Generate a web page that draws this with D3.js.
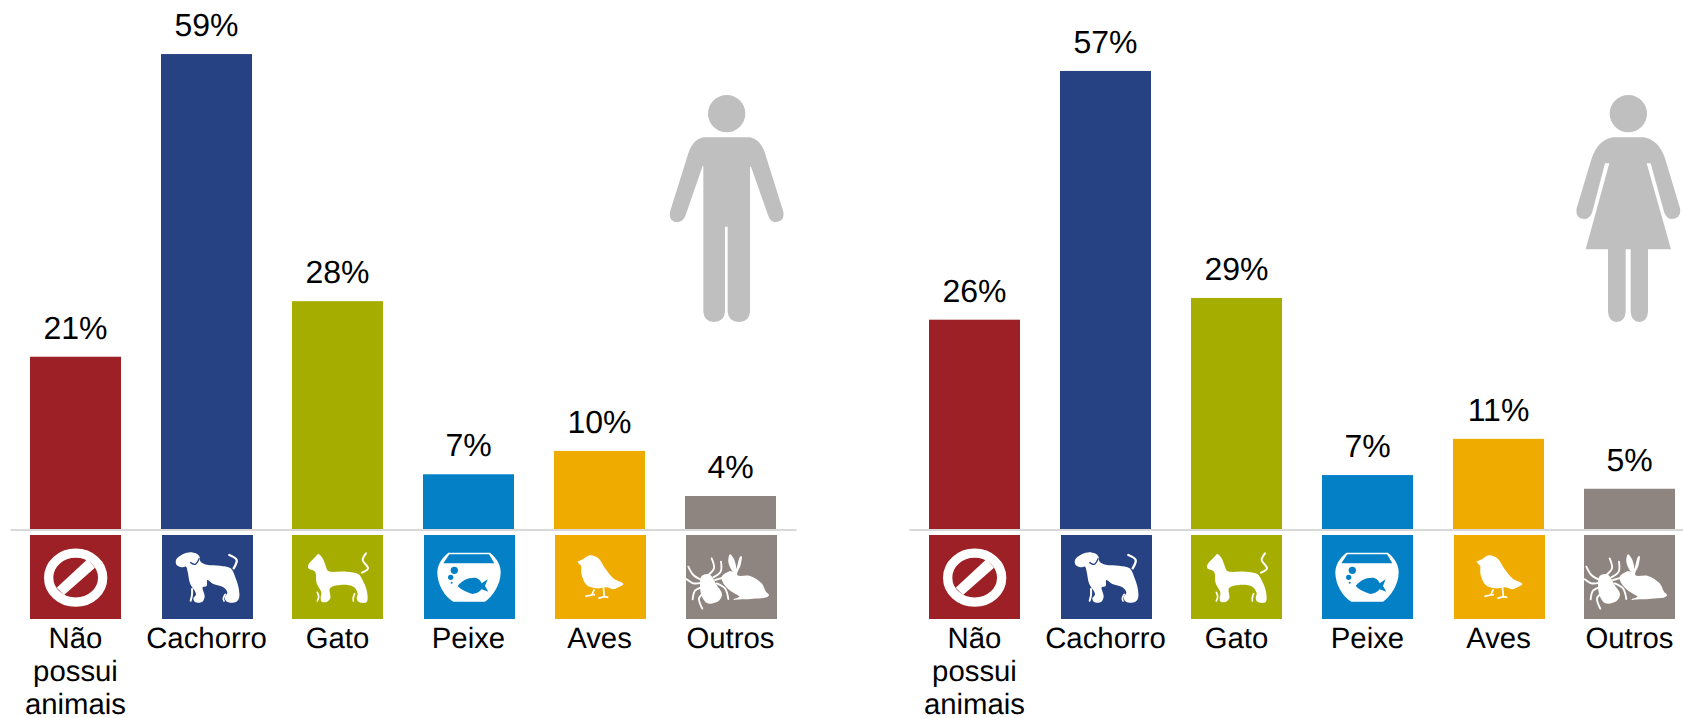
<!DOCTYPE html>
<html>
<head>
<meta charset="utf-8">
<script src="https://cdn.jsdelivr.net/npm/d3@7"></script>
<style>
  html, body { margin: 0; padding: 0; background: #fff; overflow: hidden; }
  svg { display: block; }
  text { font-family: "Liberation Sans", Arial, sans-serif; fill: #000; text-rendering: geometricPrecision; }
  .val { font-size: 32px; }
  .cat { font-size: 29.33px; }
</style>
</head>
<body>
<svg id="chart"></svg>
<script>
var categories = ["Não possui animais", "Cachorro", "Gato", "Peixe", "Aves", "Outros"];
var menValues = [21.4, 59.0, 28.3, 6.8, 9.7, 4.1];
var womenValues = [26.0, 56.9, 28.7, 6.7, 11.2, 5.0];
var colors = ["#9c2026", "#264282", "#a5ad00", "#0480c6", "#f0ab00", "#8f8580"];

var width = 1683, height = 718;
var baseY = 529, iconTop = 535, iconH = 84;

var svg = d3.select("#chart").attr("width", width).attr("height", height);

var y = d3.scaleLinear().domain([0, 60]).range([baseY, baseY - 483]);

// pictograms, traced at 3x inside the 273x252 icon square
var smooth = d3.line().curve(d3.curveCatmullRomClosed.alpha(0.5));
var open = d3.line().curve(d3.curveCatmullRom.alpha(0.5));

function blob(g, pts, fill) {
  g.append("path").attr("d", smooth(pts)).attr("fill", fill || "#fff");
}
function stroke(g, pts, w) {
  g.append("path").attr("d", open(pts)).attr("fill", "none")
    .attr("stroke", "#fff").attr("stroke-width", w).attr("stroke-linecap", "round");
}

var icons = [
  function(g) {
    g.append("ellipse").attr("cx", 137).attr("cy", 128).attr("rx", 81).attr("ry", 73.5)
      .attr("fill", "none").attr("stroke", "#fff").attr("stroke-width", 28);
    g.append("path").attr("d", "M80,158L172,73L195,98L102,180Z").attr("fill", "#fff");
  },
  function(g) {
    blob(g, [[42,75],[62,58],[89,52],[111,62],[116,80],[134,89],[174,92],[206,100],[221,130],[231,165],[231,190],[222,201],[196,201],[188,190],[196,172],[184,157],[154,147],[136,135],[134,153],[122,157],[128,185],[120,201],[99,201],[94,190],[102,178],[84,145],[77,110],[72,95],[59,97],[44,90]]);
    stroke(g, [[202,60],[224,75],[215,100]], 7);
    stroke(g, [[90,162],[90,180],[86,197]], 6);
    stroke(g, [[190,178],[184,190],[186,198]], 5);
    g.append("path").attr("d", open([[85,82],[100,88],[112,70]])).attr("fill", "none").attr("stroke", "#264282").attr("stroke-width", 4);
  },
  function(g) {
    blob(g, [[79,57],[92,70],[102,95],[109,108],[164,110],[199,117],[214,140],[225,170],[224,201],[200,201],[194,190],[197,175],[184,155],[144,150],[114,160],[115,190],[104,201],[89,200],[86,190],[88,172],[74,145],[69,110],[49,100],[49,90],[69,67]]);
    stroke(g, [[222,55],[212,75],[228,100],[210,113]], 6);
    stroke(g, [[76,172],[80,185],[76,198]], 5);
    stroke(g, [[188,176],[184,188],[184,198]], 5);
  },
  function(g) {
    g.append("path").attr("d", "M73,53L198,53C222,72 230,95 230,112C230,150 205,185 183,200L88,200C62,185 40,150 40,112C40,92 50,72 73,53Z").attr("fill", "#fff");
    var c = colors[3];
    g.append("path").attr("d", "M76,58L195,58L211,85L58,85Z").attr("fill", c);
    g.append("circle").attr("cx", 91).attr("cy", 106).attr("r", 11).attr("fill", c);
    g.append("circle").attr("cx", 80).attr("cy", 127).attr("r", 8).attr("fill", c);
    g.append("circle").attr("cx", 83).attr("cy", 143).attr("r", 3).attr("fill", c);
    g.append("path").attr("d", "M101,153C112,138 130,128 150,128C162,128 170,136 173,145L191,133L183,153L193,170L173,163C165,172 155,177 145,177C128,172 112,165 101,153Z").attr("fill", c);
  },
  function(g) {
    blob(g, [[82,77],[105,61],[130,70],[150,100],[175,130],[205,147],[190,157],[175,163],[155,157],[125,160],[95,150],[80,120],[79,98]]);
    g.append("path").attr("d", "M67,80L85,72L82,97Z").attr("fill", "#fff");
    g.append("path").attr("d", "M118,163L110,180L91,184M110,180L120,179M145,155L148,185L130,190M148,185L160,187")
      .attr("fill", "none").attr("stroke", "#fff").attr("stroke-width", 5);
  },
  function(g) {
    blob(g, [[107,125],[127,110],[147,107],[162,65],[167,63],[164,90],[154,120],[192,123],[227,145],[240,170],[249,180],[242,187],[202,191],[172,193],[142,193],[160,185],[150,178],[130,165],[112,145]]);
    blob(g, [[132,58],[127,80],[142,110],[150,105],[145,75]]);
    blob(g, [[47,123],[70,118],[92,150],[108,178],[98,198],[65,205],[48,185],[42,150]]);
    [[[47,135],[22,120],[7,95]], [[47,143],[22,145],[2,133]], [[47,157],[27,167],[20,193]], [[52,175],[39,190],[49,221]],
     [[67,120],[84,100],[77,70]], [[82,127],[104,110],[105,80]], [[87,135],[115,127]], [[92,145],[117,160],[127,192]]]
      .forEach(function(p) { stroke(g, p, 5.5); });
  }
];

var manBody = "M190,172L330,172Q362,178 375,220L430,395Q435,425 405,427Q390,425 384,405L333,260L330,260L330,695Q328,725 297,726Q265,725 263,695L263,440L255,440L255,695Q253,725 222,726Q192,725 190,695L190,258L188,258L137,405Q130,425 113,427Q85,425 90,395L145,220Q158,178 190,172Z";
var womanBody = "M160,172L250,172Q295,178 315,235L360,385Q365,415 335,417Q320,417 312,395L272,250L260,250L333,508L264,508L264,695Q262,725 238,726Q214,725 212,695L212,508L197,508L197,695Q195,725 170,726Q146,725 144,695L144,508L77,508L148,250L135,250L97,395Q90,417 72,417Q45,415 50,385L95,235Q115,178 160,172Z";

function drawPanel(values, x0, iconNudge) {
  var x = d3.scaleBand().domain(categories).range([x0, x0 + 786]).paddingInner(40 / 131).paddingOuter(20 / 131);
  var g = svg.append("g");

  g.selectAll(".bar").data(values).enter().append("rect")
    .attr("class", "bar")
    .attr("x", function(d, i) { return x(categories[i]); })
    .attr("y", function(d) { return y(d); })
    .attr("width", x.bandwidth())
    .attr("height", function(d) { return y(0) - y(d); })
    .attr("fill", function(d, i) { return colors[i]; });

  g.append("g")
    .attr("transform", "translate(0," + (baseY + 0.5) + ")")
    .call(d3.axisBottom(x).tickSize(0).tickFormat(""))
    .select(".domain").attr("stroke", "#d9d9d9").attr("stroke-width", 2);

  g.selectAll(".val").data(values).enter().append("text")
    .attr("class", "val")
    .attr("text-anchor", "middle")
    .attr("x", function(d, i) { return x(categories[i]) + x.bandwidth() / 2; })
    .attr("y", function(d) { return y(d) - 18; })
    .text(function(d) { return Math.round(d) + "%"; });

  categories.forEach(function(c, i) {
    var left = x(c) + iconNudge[i];
    var ig = g.append("g").attr("transform", "translate(" + left + "," + iconTop + ")");
    ig.append("rect").attr("width", x.bandwidth()).attr("height", iconH).attr("fill", colors[i]);
    icons[i](ig.append("g").attr("transform", "scale(" + 1 / 3 + ")"));

    var words = i === 0 ? c.split(" ") : [c];
    g.append("text")
      .attr("class", "cat")
      .attr("text-anchor", "middle")
      .selectAll("tspan").data(words).enter().append("tspan")
      .attr("x", x(c) + x.bandwidth() / 2)
      .attr("y", function(d, k) { return 648 + k * 33; })
      .text(function(d) { return d; });
  });
}

drawPanel(menValues, 10, [0, 1, 0, 1, 1, 1]);
drawPanel(womenValues, 909, [0, 1, 0, 0, 1, 0]);

// man and woman figures
var man = svg.append("g").attr("transform", "translate(640,80) scale(" + 1 / 3 + ")").attr("fill", "#bfbfbf");
man.append("circle").attr("cx", 260).attr("cy", 101).attr("r", 56);
man.append("path").attr("d", manBody);

var woman = svg.append("g").attr("transform", "translate(1560,80) scale(" + 1 / 3 + ")").attr("fill", "#bfbfbf");
woman.append("circle").attr("cx", 205).attr("cy", 101).attr("r", 56);
woman.append("path").attr("d", womanBody);
</script>
</body>
</html>
